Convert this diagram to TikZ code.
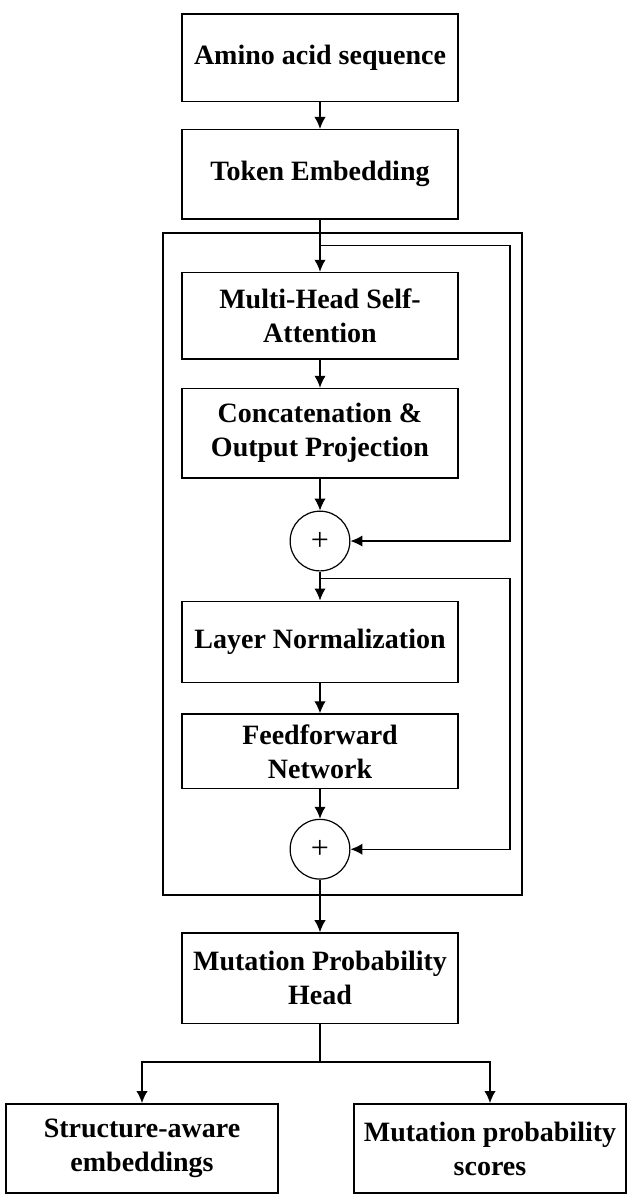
\documentclass[tikz,border=0pt]{standalone}
\usepackage{fontspec}
\setmainfont{Liberation Serif}
\usetikzlibrary{arrows.meta,calc,positioning}

\begin{document}
\begin{tikzpicture}[
    x=0.75pt, y=0.75pt,
    block/.style={
        draw, rectangle,
        line width=1.1pt,
        minimum width=207pt,
        minimum height=67pt,
        align=center,
        font={\bfseries\fontsize{21}{25.5}\selectfont}
    },
    adder/.style={
        draw, circle,
        line width=0.9pt,
        minimum size=44.8pt, inner sep=0pt,
        font={\fontsize{24}{24}\selectfont}
    },
    flow/.style={-{Latex[length=9pt,width=8.5pt]}, line width=1pt},
    node distance=21pt
]
\useasboundingbox (0,0) rectangle (636,-1196);

\node[block, minimum height=65.6pt] (amino) at (320,-57.5) {Amino acid sequence};
\node[block, below=20.25pt of amino] (token) {Token Embedding};
\node[block, minimum height=64.9pt, below=39pt of token] (mhsa) {Multi-Head Self-\\Attention};
\node[block, below=of mhsa] (concat) {Concatenation \&\\Output Projection};
\node[adder, below=24pt of concat] (add1) {+};
\node[block, minimum height=61pt, below=21.75pt of add1] (norm) {Layer Normalization};
\node[block, minimum height=56pt, below=22.5pt of norm] (ffn) {Feedforward\\Network};
\node[adder, below=22pt of ffn] (add2) {+};
\node[block, minimum height=68pt, below=39.4pt of add2] (head) {Mutation Probability\\Head};
\node[block, minimum width=204pt, below=59pt of head, xshift=-133.5pt] (embed) {Structure-aware\\embeddings};
\node[block, minimum width=204pt, below=59pt of head, xshift=127.5pt] (scores) {Mutation probability\\scores};

% encoder frame
\draw[line width=1.1pt] (163,-233) rectangle (522,-895);

\coordinate (rail) at (510,0);
\coordinate (fork1) at ($(token.south)!0.5!(mhsa.north)$);
\coordinate (fork2) at ($(add1.south)!0.25!(norm.north)$);
\coordinate (branch) at ($(head.south)!0.48!(head.south |- embed.north)$);

\draw[flow] (amino) -- (token);
\draw[flow] (token) -- (mhsa);
\draw[flow] (mhsa) -- (concat);
\draw[flow] (concat) -- (add1);
\draw[flow] (add1) -- (norm);
\draw[flow] (norm) -- (ffn);
\draw[flow] (ffn) -- (add2);
\draw[flow] (add2) -- (head);
\draw[flow] (fork1) -- (fork1 -| rail) |- (add1);
\draw[flow] (fork2) -- (fork2 -| rail) |- (add2);
\draw[line width=1pt] (head) -- (branch);
\draw[flow] (branch) -| (embed.north);
\draw[flow] (branch) -| (scores.north);
\end{tikzpicture}
\end{document}
